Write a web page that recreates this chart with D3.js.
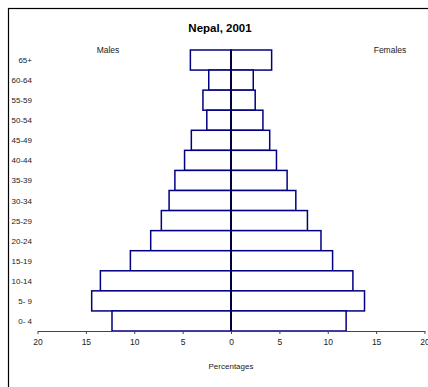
<!DOCTYPE html>
<html><head><meta charset="utf-8">
<script src="https://cdn.jsdelivr.net/npm/d3@7"></script>
<style>body{margin:0;background:#fff}svg{display:block}text{font-family:"Liberation Sans",Arial,sans-serif}</style>
</head><body><svg id="c" width="428" height="387"></svg>
<script>
const ageGroups = ["65+","60-64","55-59","50-54","45-49","40-44","35-39","30-34","25-29","20-24","15-19","10-14","5- 9","0- 4"];
const males   = [4.2,2.3,2.9,2.5,4.1,4.8,5.8,6.4,7.2,8.3,10.4,13.5,14.4,12.3];
const females = [4.2,2.3,2.5,3.3,4.0,4.7,5.8,6.7,7.9,9.3,10.5,12.6,13.8,11.9];
const xTicks = [-20,-15,-10,-5,0,5,10,15,20];
const title = "Nepal, 2001";

const svg = d3.select("#c");
// outer frame (extends beyond visible area on right/bottom)
svg.append("rect").attr("x",8.5).attr("y",8.5).attr("width",440).attr("height",400)
  .attr("fill","none").attr("stroke","#000").attr("stroke-width",1.2);

const x = d3.scaleLinear().domain([-20,20]).range([37.5,424.5]);
const y = d3.scaleBand().domain(ageGroups).range([50,331]).padding(0);

const g = svg.append("g");
const data = ageGroups.map((a,i)=>({a,m:males[i],f:females[i]}));
g.selectAll("rect.m").data(data).join("rect").attr("class","m")
  .attr("x",d=>x(-d.m)).attr("y",d=>y(d.a)).attr("width",d=>x(0)-x(-d.m)).attr("height",y.bandwidth())
  .attr("fill","#fff").attr("stroke","#000080").attr("stroke-width",1.5);
g.selectAll("rect.f").data(data).join("rect").attr("class","f")
  .attr("x",x(0)).attr("y",d=>y(d.a)).attr("width",d=>x(d.f)-x(0)).attr("height",y.bandwidth())
  .attr("fill","#fff").attr("stroke","#000080").attr("stroke-width",1.5);

// center line
svg.append("line").attr("x1",x(0)).attr("x2",x(0)).attr("y1",50).attr("y2",331)
  .attr("stroke","#000040").attr("stroke-width",2);

// x axis
const ax = svg.append("g").attr("transform","translate(0,331)")
  .call(d3.axisBottom(x).tickValues(xTicks).tickFormat(d=>Math.abs(d)).tickSize(3).tickSizeOuter(0));
ax.select(".domain").attr("stroke","#444").attr("stroke-width",1.2);
ax.selectAll(".tick line").attr("stroke","#444");
ax.selectAll(".tick text").attr("font-size","8.5px").attr("fill","#222").attr("dy","0.9em")
  .style("font-family","'Liberation Sans',Arial,sans-serif");

// y labels
svg.append("g").selectAll("text").data(ageGroups).join("text")
  .attr("x",32).attr("y",d=>y(d)+y.bandwidth()/2+3).attr("text-anchor","end")
  .attr("font-size","8px").attr("fill","#222").text(d=>d);

svg.append("text").attr("x",220).attr("y",32).attr("text-anchor","middle")
  .attr("font-size","11.5px").attr("font-weight","bold").text(title);
svg.append("text").attr("x",108).attr("y",53).attr("text-anchor","middle").attr("font-size","8.5px").attr("fill","#222").text("Males");
svg.append("text").attr("x",390).attr("y",53).attr("text-anchor","middle").attr("font-size","8.5px").attr("fill","#222").text("Females");
svg.append("text").attr("x",231).attr("y",369).attr("text-anchor","middle").attr("font-size","8px").attr("fill","#222").text("Percentages");
</script></body></html>
